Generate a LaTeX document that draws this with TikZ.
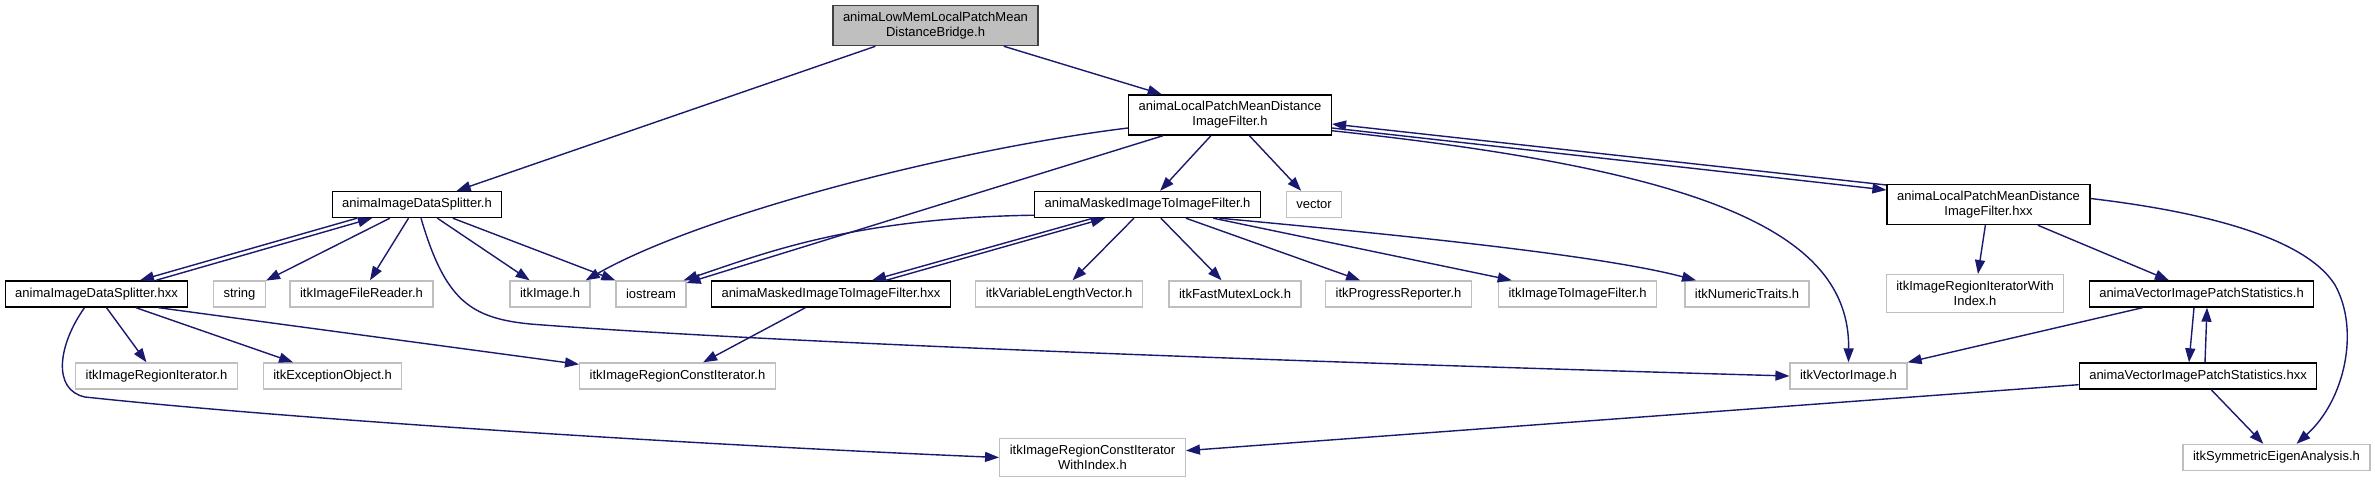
\documentclass[tikz,border=0pt]{standalone}
\usepackage{fontspec}
\setmainfont{Liberation Sans}
\usetikzlibrary{arrows.meta}
\definecolor{dblue}{RGB}{25,25,112}
\definecolor{lgrey}{RGB}{191,191,191}
\definecolor{dgrey}{RGB}{64,64,64}
\tikzset{incgraph/.style={x=1pt,y=1pt,font=\fontsize{13}{15}\selectfont},
  anbox/.style={draw=black,fill=white,line width=1.4pt,inner xsep=10pt,inner ysep=6.5pt,minimum height=26pt,align=center},
  itkbox/.style={anbox,draw=lgrey},
  topbox/.style={anbox,fill=lgrey,draw=dgrey},
  dep/.style={dblue,line width=1.4pt,-{Triangle[length=14pt,width=10pt]}}}

\begin{document}
\begin{tikzpicture}[incgraph]
    \path[use as bounding box,fill=white] (0,0) rectangle (2375,-484);
    \node[topbox] (bridge) at (935.5,-25.5) {animaLowMemLocalPatchMean\\DistanceBridge.h};
    \node[anbox] (lpf) at (1230,-115) {animaLocalPatchMeanDistance\\ImageFilter.h};
    \node[anbox] (splt) at (417,-204.5) {animaImageDataSplitter.h};
    \node[anbox] (mskd) at (1147.5,-204.5) {animaMaskedImageToImageFilter.h};
    \node[itkbox] (vec) at (1314,-204.5) {vector};
    \node[anbox] (lpfx) at (1988.5,-204.5) {animaLocalPatchMeanDistance\\ImageFilter.hxx};
    \node[anbox] (spltx) at (96.5,-294) {animaImageDataSplitter.hxx};
    \node[itkbox] (strg) at (239.5,-294) {string};
    \node[itkbox] (fread) at (361.5,-294) {itkImageFileReader.h};
    \node[itkbox] (img) at (550,-294) {itkImage.h};
    \node[itkbox] (iostr) at (651,-294) {iostream};
    \node[anbox] (mskdx) at (831,-294) {animaMaskedImageToImageFilter.hxx};
    \node[itkbox] (vlv) at (1059,-294) {itkVariableLengthVector.h};
    \node[itkbox] (mutex) at (1235,-294) {itkFastMutexLock.h};
    \node[itkbox] (prog) at (1398.5,-294) {itkProgressReporter.h};
    \node[itkbox] (i2i) at (1577.5,-294) {itkImageToImageFilter.h};
    \node[itkbox] (ntr) at (1747,-294) {itkNumericTraits.h};
    \node[itkbox] (riwi) at (1975,-293.5) {itkImageRegionIteratorWith\\Index.h};
    \node[anbox] (vpst) at (2201.5,-294) {animaVectorImagePatchStatistics.h};
    \node[itkbox] (regit) at (156.5,-376) {itkImageRegionIterator.h};
    \node[itkbox] (exc) at (332.5,-376) {itkExceptionObject.h};
    \node[itkbox] (rcit) at (677.5,-376) {itkImageRegionConstIterator.h};
    \node[itkbox] (vimg) at (1848.5,-376) {itkVectorImage.h};
    \node[anbox] (vpstx) at (2198,-376) {animaVectorImagePatchStatistics.hxx};
    \node[itkbox] (rciwi) at (1092.5,-457.5) {itkImageRegionConstIterator\\WithIndex.h};
    \node[itkbox] (eig) at (2276.5,-457.5) {itkSymmetricEigenAnalysis.h};

    \draw[dep] (bridge) -- (splt);
    \draw[dep] (bridge) -- (lpf);
    \foreach \t in {mskd,vec,iostr} \draw[dep] (lpf) -- (\t);
    \draw[dep] ([yshift=-13pt]lpf.west) .. controls (950,-150) and (700,-215) .. ([xshift=-5pt]img.north east);
    \draw[dep] ([yshift=5pt]lpf.south east) .. controls (1700,-170) and (1850,-230) .. (vimg.north);
    \draw[dep] ([yshift=-13pt]lpf.east) -- ([yshift=14.5pt]lpfx.west);
    \draw[dep] ([yshift=19.5pt]lpfx.west) -- ([yshift=-9pt]lpf.east);

    \draw[dep] ([xshift=-60pt]splt.south) -- ([xshift=43.5pt]spltx.north);
    \draw[dep] ([xshift=59.5pt]spltx.north) -- ([xshift=-45pt]splt.south);
    \foreach \t in {strg,fread,img,iostr} \draw[dep] (splt) -- (\t);
    \draw[dep] ([xshift=4pt]splt.south) .. controls (445,-300) and (470,-318) .. (530,-324)
      .. controls (800,-345) and (1400,-365) .. (vimg.west);
    \foreach \t in {regit,exc} \draw[dep] (spltx) -- (\t);
    \draw[dep] ([xshift=62pt]spltx.south) -- ([yshift=-2pt]rcit.north west);
    \draw[dep] ([xshift=-12pt]spltx.south) .. controls (58,-345) and (52,-390) .. (85,-397)
      .. controls (300,-420) and (700,-445) .. (rciwi.west);

    \draw[dep] ([yshift=3pt]mskd.south west) .. controls (850,-218) and (760,-255) .. ([xshift=-3pt]iostr.north east);
    \draw[dep] ([xshift=-54.5pt]mskd.south) -- ([xshift=41pt]mskdx.north);
    \draw[dep] ([xshift=55pt]mskdx.north) -- ([xshift=-42.5pt]mskd.south);
    \foreach \t in {vlv,mutex,prog,i2i} \draw[dep] (mskd) -- (\t);
    \draw[dep] ([xshift=72pt]mskd.south) .. controls (1400,-235) and (1600,-255) .. ([xshift=-51pt]ntr.north);
    \draw[dep] (mskdx) -- (rcit);

    \foreach \t in {riwi,vpst} \draw[dep] (lpfx) -- (\t);
    \draw[dep] ([yshift=6pt]lpfx.east) .. controls (2230,-215) and (2310,-245) .. (2335,-285)
      .. controls (2360,-330) and (2345,-400) .. ([xshift=20pt]eig.north);
    \draw[dep] ([xshift=-7.5pt]vpst.south) -- ([xshift=-9pt]vpstx.north);
    \draw[dep] ([xshift=7pt]vpstx.north) -- ([xshift=5.5pt]vpst.south);
    \draw[dep] (vpst) -- (vimg);
    \foreach \t in {eig,rciwi} \draw[dep] (vpstx) -- (\t);
\end{tikzpicture}
\end{document}
